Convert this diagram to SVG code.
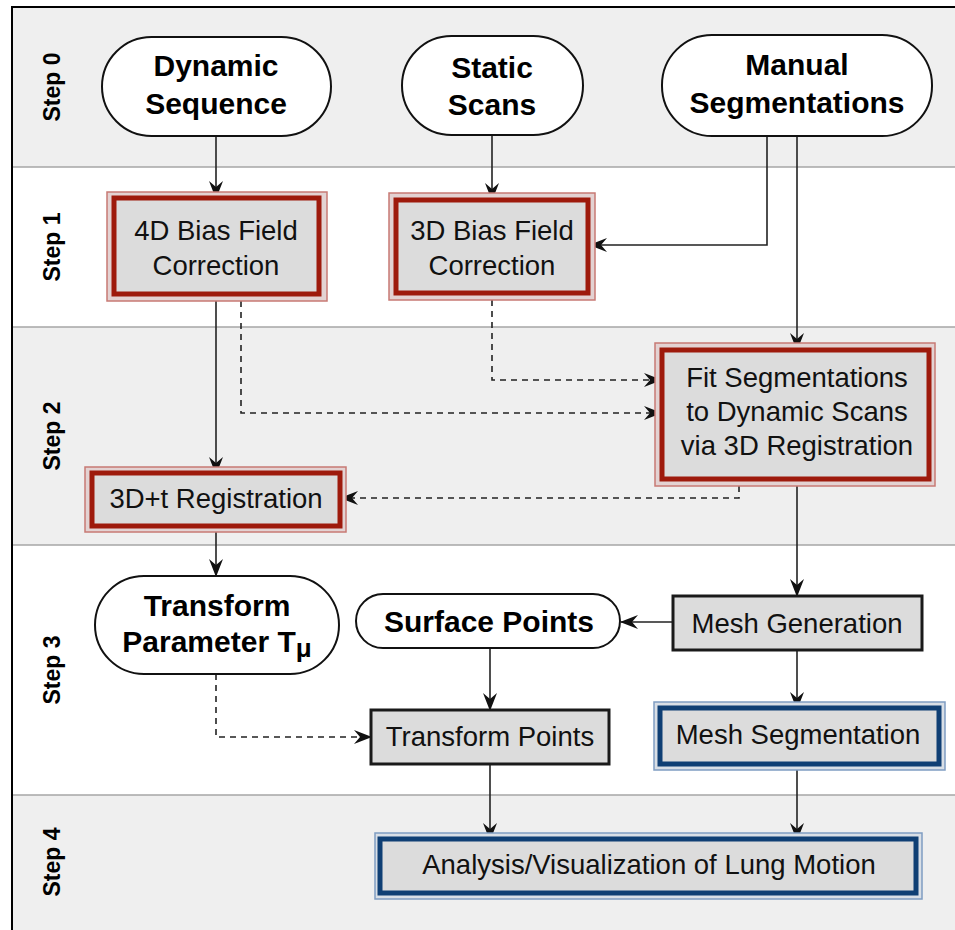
<svg xmlns="http://www.w3.org/2000/svg" width="955" height="930" viewBox="0 0 955 930">
<style>
.lane-g{fill:#efefef}
.sep{stroke:#a6a6a6;stroke-width:1.5}
.step{font-family:"Liberation Sans",Arial,sans-serif;font-weight:bold;font-size:23px;fill:#000}
.t{font-family:"Liberation Sans",Arial,sans-serif;font-size:27.5px;fill:#111;text-anchor:middle}
.b{font-family:"Liberation Sans",Arial,sans-serif;font-size:30px;font-weight:bold;fill:#000;text-anchor:middle}
.term{fill:#fff;stroke:#111;stroke-width:2}
.proc{fill:#dcdcdc;stroke:#1a1a1a;stroke-width:3}
.rout{fill:#e3d2d2;stroke:#c87a74;stroke-width:1.5}
.rin{fill:#dcdcdc;stroke:#9e1a0c;stroke-width:5}
.bout{fill:#d9dfe6;stroke:#7f9dc2;stroke-width:1.5}
.bin{fill:#dcdcdc;stroke:#0f3f74;stroke-width:5}
.c{fill:none;stroke:#222;stroke-width:1.6}
.d{fill:none;stroke:#222;stroke-width:1.6;stroke-dasharray:6 5}
</style>
<defs>
<marker id="arr" viewBox="0 0 18 14" refX="17" refY="7" markerWidth="18" markerHeight="14" markerUnits="userSpaceOnUse" orient="auto">
<path d="M0,0 L18,7 L0,14 L6,7 Z" fill="#111"/>
</marker>
</defs>
<g id="lanes">
<rect x="12" y="7" width="943" height="160" class="lane-g"/>
<rect x="12" y="167" width="943" height="160" fill="#fff"/>
<rect x="12" y="327" width="943" height="218" class="lane-g"/>
<rect x="12" y="545" width="943" height="250" fill="#fff"/>
<rect x="12" y="795" width="943" height="135" class="lane-g"/>
<line x1="12" y1="167" x2="955" y2="167" class="sep"/>
<line x1="12" y1="327" x2="955" y2="327" class="sep"/>
<line x1="12" y1="545" x2="955" y2="545" class="sep"/>
<line x1="12" y1="795" x2="955" y2="795" class="sep"/>
<line x1="12" y1="7" x2="955" y2="7" stroke="#000" stroke-width="2"/>
<line x1="12" y1="6" x2="12" y2="930" stroke="#000" stroke-width="2"/>
<text class="step" transform="translate(60,87) rotate(-90)" text-anchor="middle">Step 0</text>
<text class="step" transform="translate(60,247) rotate(-90)" text-anchor="middle">Step 1</text>
<text class="step" transform="translate(60,436) rotate(-90)" text-anchor="middle">Step 2</text>
<text class="step" transform="translate(60,670) rotate(-90)" text-anchor="middle">Step 3</text>
<text class="step" transform="translate(60,862) rotate(-90)" text-anchor="middle">Step 4</text>
</g>
<g id="connectors">
<path d="M216,136 V198" class="c" marker-end="url(#arr)"/>
<path d="M492,135 V200" class="c" marker-end="url(#arr)"/>
<path d="M767,136 V245 H590" class="c" marker-end="url(#arr)"/>
<path d="M797,136 V350" class="c" marker-end="url(#arr)"/>
<path d="M492,300 V380 H661" class="d" marker-end="url(#arr)"/>
<path d="M241,301 V413 H661" class="d" marker-end="url(#arr)"/>
<path d="M216,301 V474" class="c" marker-end="url(#arr)"/>
<path d="M739,486 V498 H341" class="d" marker-end="url(#arr)"/>
<path d="M797,486 V596" class="c" marker-end="url(#arr)"/>
<path d="M216,532 V576" class="c" marker-end="url(#arr)"/>
<path d="M673,622 H621" class="c" marker-end="url(#arr)"/>
<path d="M216,674 V737 H371" class="d" marker-end="url(#arr)"/>
<path d="M490,648 V710" class="c" marker-end="url(#arr)"/>
<path d="M797,650 V709" class="c" marker-end="url(#arr)"/>
<path d="M490,764 V840" class="c" marker-end="url(#arr)"/>
<path d="M797,770 V840" class="c" marker-end="url(#arr)"/>
</g>
<g id="dynamic-sequence">
<rect x="102" y="37" width="229" height="99" rx="49.5" class="term"/>
<text class="b" x="216" y="76">Dynamic</text>
<text class="b" x="216" y="114">Sequence</text>
</g>
<g id="static-scans">
<rect x="402" y="36" width="181" height="99" rx="49.5" class="term"/>
<text class="b" x="492" y="78">Static</text>
<text class="b" x="492" y="115">Scans</text>
</g>
<g id="manual-segmentations">
<rect x="662" y="35" width="270" height="101" rx="50" class="term"/>
<text class="b" x="797" y="75">Manual</text>
<text class="b" x="797" y="113">Segmentations</text>
</g>
<g id="bias-4d">
<rect x="107" y="192" width="220" height="109" class="rout"/>
<rect x="114" y="198" width="205" height="96" class="rin"/>
<text class="t" x="216" y="240">4D Bias Field</text>
<text class="t" x="216" y="275">Correction</text>
</g>
<g id="bias-3d">
<rect x="389" y="193" width="206" height="107" class="rout"/>
<rect x="396" y="200" width="192" height="93" class="rin"/>
<text class="t" x="492" y="240">3D Bias Field</text>
<text class="t" x="492" y="275">Correction</text>
</g>
<g id="fit-segmentations">
<rect x="655" y="343" width="280" height="143" class="rout"/>
<rect x="662" y="350" width="267" height="129" class="rin"/>
<text class="t" x="797" y="387">Fit Segmentations</text>
<text class="t" x="797" y="421">to Dynamic Scans</text>
<text class="t" x="797" y="455">via 3D Registration</text>
</g>
<g id="registration-3dt">
<rect x="85" y="467" width="261" height="65" class="rout"/>
<rect x="92" y="473" width="248" height="53" class="rin"/>
<text class="t" x="216" y="508">3D+t Registration</text>
</g>
<g id="transform-parameter">
<rect x="95" y="576" width="244" height="98" rx="49" class="term"/>
<text class="b" x="217" y="616">Transform</text>
<text class="b" x="217" y="652">Parameter T<tspan font-size="26" dy="5">μ</tspan></text>
</g>
<g id="surface-points">
<rect x="356" y="594" width="264" height="54" rx="27" class="term"/>
<text class="b" x="489" y="632">Surface Points</text>
</g>
<g id="mesh-generation">
<rect x="673" y="596" width="249" height="54" class="proc"/>
<text class="t" x="797" y="633">Mesh Generation</text>
</g>
<g id="transform-points">
<rect x="371" y="710" width="238" height="54" class="proc"/>
<text class="t" x="490" y="746">Transform Points</text>
</g>
<g id="mesh-segmentation">
<rect x="654" y="702" width="291" height="68" class="bout"/>
<rect x="660" y="708" width="279" height="56" class="bin"/>
<text class="t" x="798" y="744">Mesh Segmentation</text>
</g>
<g id="analysis">
<rect x="375" y="833" width="547" height="66" class="bout"/>
<rect x="380" y="839" width="536" height="54" class="bin"/>
<text class="t" x="649" y="874">Analysis/Visualization of Lung Motion</text>
</g>
</svg>
